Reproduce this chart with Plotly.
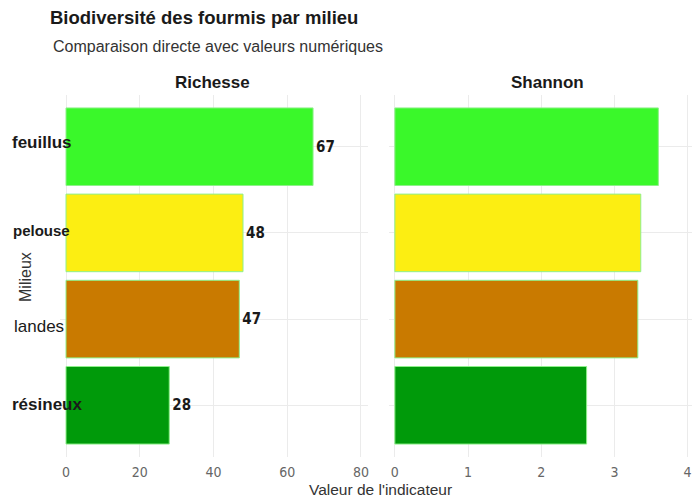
import plotly.graph_objects as go

# Données : indicateurs de biodiversité des fourmis par milieu
milieux = ["feuillus", "pelouse", "landes", "résineux"]
richesse = [67, 48, 47, 28]
shannon = [3.6, 3.36, 3.32, 2.62]
couleurs = ["#3AF82A", "#FCEE12", "#C97A00", "#009A0A"]
ticks_richesse = [0, 20, 40, 60, 80]
ticks_shannon = [0, 1, 2, 3, 4]
ordre = ["résineux", "landes", "pelouse", "feuillus"]

W, H = 692, 498
fig = go.Figure()

fig.add_trace(go.Bar(
    x=richesse, y=milieux, orientation="h", width=0.9,
    marker=dict(color=couleurs, line=dict(color="#8EF08A", width=1)),
    text=[str(v) for v in richesse], textposition="outside",
    textfont=dict(family="DejaVu Sans Condensed", size=15, color="#1a1a1a"),
    texttemplate="<b>%{text}</b>", cliponaxis=False,
    xaxis="x", yaxis="y", showlegend=False, hoverinfo="x+y",
))
fig.add_trace(go.Bar(
    x=shannon, y=milieux, orientation="h", width=0.9,
    marker=dict(color=couleurs, line=dict(color="#8EF08A", width=1)),
    xaxis="x2", yaxis="y2", showlegend=False, hoverinfo="x+y",
))

grid = "#EBEBEB"
tickfont = dict(family="DejaVu Sans Condensed", size=14, color="#666")
ydom = [1 - 457 / H, 1 - 95 / H]

fig.update_layout(
    width=W, height=H,
    margin=dict(l=0, r=0, t=0, b=0),
    paper_bgcolor="white", plot_bgcolor="white",
    font=dict(family="Liberation Sans", color="#222"),
    xaxis=dict(domain=[60 / W, 368 / W], range=[-1.63, 81.9],
               tickvals=ticks_richesse, tickfont=tickfont,
               showgrid=True, gridcolor=grid, zeroline=False,
               showline=False, ticks="", ticklabelstandoff=5),
    yaxis=dict(domain=ydom, type="category", categoryorder="array",
               categoryarray=ordre, range=[-0.6, 3.6],
               showticklabels=False, showgrid=True, gridcolor=grid,
               zeroline=False, ticks=""),
    xaxis2=dict(domain=[389 / W, 1.0], range=[-0.08, 4.06],
                tickvals=ticks_shannon, tickfont=tickfont,
                showgrid=True, gridcolor=grid, zeroline=False,
                showline=False, ticks="", ticklabelstandoff=5),
    yaxis2=dict(domain=ydom, anchor="x2", type="category",
                categoryorder="array", categoryarray=ordre,
                range=[-0.6, 3.6], showticklabels=False,
                showgrid=True, gridcolor=grid, zeroline=False, ticks=""),
    title=dict(text="<b>Biodiversité des fourmis par milieu</b>",
               x=50 / W, xanchor="left", xref="paper",
               y=1 - 18 / H, yanchor="middle",
               font=dict(family="Liberation Sans", size=18.5, color="#1a1a1a")),
)

ann = [
    dict(text="Comparaison directe avec valeurs numériques",
         x=51 / W, y=1 - 46 / H, xanchor="left", yanchor="middle",
         font=dict(size=16, color="#333")),
    dict(text="<b>Richesse</b>", x=212 / W, y=1 - 82 / H,
         xanchor="center", yanchor="middle",
         font=dict(size=17, color="#1a1a1a")),
    dict(text="<b>Shannon</b>", x=547 / W, y=1 - 82 / H,
         xanchor="center", yanchor="middle",
         font=dict(size=17, color="#1a1a1a")),
    dict(text="Valeur de l'indicateur", x=380 / W, y=1 - 489 / H,
         xanchor="center", yanchor="middle",
         font=dict(size=15.5, color="#333")),
    dict(text="Milieux", x=25 / W, y=1 - 277 / H, textangle=-90,
         xanchor="center", yanchor="middle",
         font=dict(size=16, color="#333")),
]
for a in ann:
    a.update(xref="paper", yref="paper", showarrow=False)

# Étiquettes des milieux (styles variés)
styles = {
    "feuillus": ("<b>feuillus</b>", 17, 10, 4),
    "pelouse": ("<b>pelouse</b>", 15, 11, 2),
    "landes": ("landes", 17, 12, -7),
    "résineux": ("<b>résineux</b>", 17, 10, 1),
}
for m in milieux:
    txt, size, left, dy = styles[m]
    ann.append(dict(text=txt, xref="paper", x=left / W, xanchor="left",
                    yref="y", y=m, yanchor="middle", yshift=dy,
                    showarrow=False, font=dict(size=size, color="#1a1a1a")))

fig.update_layout(annotations=ann)
fig.write_html("out.html")
